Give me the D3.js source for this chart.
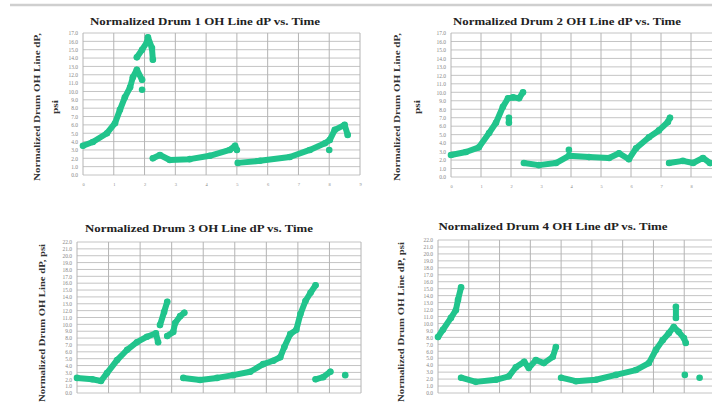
<!DOCTYPE html>
<html>
<head>
  <meta charset="utf-8">
  <script src="https://d3js.org/d3.v7.min.js"></script>
  <style>
    html, body { margin: 0; padding: 0; background: #fff; }
    svg { display: block; }
    .title { font-family: "Liberation Serif", "Times New Roman", serif; font-weight: bold; fill: #222; }
    .ytitle { font-family: "Liberation Serif", "Times New Roman", serif; font-weight: bold; fill: #333; }
    .tick text { font-family: "Liberation Serif", serif; fill: #888; }
  </style>
</head>
<body>
<div id="chart"></div>
<script>
// chart titles
var titles = [
  "Normalized Drum 1 OH Line dP vs. Time",
  "Normalized Drum 2 OH Line dP vs. Time",
  "Normalized Drum 3 OH Line dP vs. Time",
  "Normalized Drum 4 OH Line dP vs. Time"
];
var yTitleTwoLines = ["Normalized Drum OH Line dP,", "psi"];
var yTitleOneLine = ["Normalized Drum OH Line dP, psi"];

// time ticks (index of interval) shown under the top charts
var xTickLabels = ["0", "1", "2", "3", "4", "5", "6", "7", "8", "9"];

// y tick ranges
var yTicksTop = d3.range(0, 18);     // 0.0 .. 17.0
var yTicksBottom = d3.range(0, 23);  // 0.0 .. 22.0

// Drum 1: runs of readings [time, dP]
var drum1Runs = [
  [[0, 3.5], [0.32, 3.95], [0.78, 5.0], [1.04, 6.2], [1.2, 7.8], [1.36, 9.3], [1.53, 10.5], [1.62, 11.7], [1.75, 12.6], [1.92, 11.4]],
  [[1.75, 14.1], [1.92, 15.0], [2.08, 15.9], [2.11, 16.5], [2.24, 15.2], [2.27, 13.8]],
  [[2.27, 2.0], [2.5, 2.4], [2.82, 1.8], [3.47, 1.9], [4.12, 2.3], [4.77, 3.0], [4.94, 3.5], [5.0, 3.0]],
  [[5.03, 1.45], [5.75, 1.7], [6.72, 2.15], [7.37, 3.0], [7.86, 3.8], [8.02, 4.2], [8.18, 5.4], [8.5, 6.0], [8.6, 4.8]]
];
var drum1Single = [[1.92, 10.2], [8.0, 3.0]];

// Drum 2
var drum2Runs = [
  [[0, 2.6], [0.5, 2.95], [0.93, 3.5], [1.27, 5.2], [1.5, 6.4], [1.73, 8.3], [1.9, 9.3], [2.07, 9.4], [2.27, 9.3], [2.4, 10.0]],
  [[1.93, 7.0], [1.93, 6.4]],
  [[2.43, 1.65], [2.93, 1.4], [3.5, 1.65], [3.93, 2.5], [4.6, 2.35], [5.27, 2.25], [5.6, 2.8], [5.93, 2.1], [6.17, 3.4], [6.6, 4.7], [6.93, 5.5], [7.23, 6.5], [7.3, 7.0]],
  [[7.27, 1.65], [7.73, 1.9], [8.07, 1.65], [8.4, 2.25], [8.63, 1.65]]
];
var drum2Single = [[3.93, 3.2]];

// Drum 3
var drum3Runs = [
  [[0, 2.2], [0.48, 2.0], [0.76, 1.75], [0.95, 2.9], [1.27, 4.8], [1.59, 6.3], [1.9, 7.4], [2.22, 8.2], [2.5, 8.7], [2.57, 7.4]],
  [[2.63, 9.9], [2.76, 11.8], [2.86, 13.3]],
  [[2.86, 8.3], [3.05, 8.9], [3.11, 10.2], [3.27, 11.2], [3.4, 11.7]],
  [[3.37, 2.2], [3.9, 1.9], [4.44, 2.2], [4.95, 2.6], [5.49, 3.1], [5.9, 4.2], [6.22, 4.7], [6.44, 5.2], [6.57, 6.7], [6.76, 8.6], [6.95, 9.2], [7.08, 11.5], [7.24, 13.4], [7.4, 14.6], [7.56, 15.7]],
  [[7.56, 2.0], [7.8, 2.3], [8.03, 3.1]]
];
var drum3Single = [[8.5, 2.6]];

// Drum 4
var drum4Runs = [
  [[0, 8.05], [0.16, 9.1], [0.42, 10.8], [0.58, 11.9], [0.65, 13.4], [0.75, 15.2]],
  [[0.75, 2.2], [1.23, 1.6], [1.88, 1.9], [2.3, 2.4], [2.53, 3.7], [2.8, 4.5], [2.95, 3.6], [3.18, 4.75], [3.44, 4.3], [3.73, 5.2], [3.83, 6.6]],
  [[4.0, 2.2], [4.48, 1.7], [5.13, 1.9], [5.78, 2.6], [6.43, 3.3], [6.85, 4.3], [7.08, 6.2], [7.3, 7.6], [7.5, 8.6], [7.66, 9.5], [7.82, 8.8], [7.99, 7.9], [8.05, 7.2]],
  [[7.73, 10.8], [7.73, 12.4]]
];
var drum4Single = [[8.02, 2.6], [8.5, 2.2]];

var green = "#21c48c";

var svg = d3.select("#chart").append("svg")
  .attr("width", 712)
  .attr("height", 408);

// faint rule at the top of the page
svg.append("line")
  .attr("x1", 10).attr("x2", 712)
  .attr("y1", 5).attr("y2", 5)
  .attr("stroke", "#cfcfcf")
  .attr("stroke-width", 2.5);

var panels = [
  { runs: drum1Runs, single: drum1Single, title: titles[0], yTitle: yTitleTwoLines, yTicks: yTicksTop,
    left: 83, right: 360, top: 33, bottom: 175, titleX: 205, titleY: 25, titleW: 230,
    yTitleX: [40, 58], yTitleC: 107, yTitleW: [148, 14], xLabels: true },
  { runs: drum2Runs, single: drum2Single, title: titles[1], yTitle: yTitleTwoLines, yTicks: yTicksTop,
    left: 451, right: 721, top: 33, bottom: 177, titleX: 567, titleY: 25, titleW: 228,
    yTitleX: [400, 420], yTitleC: 107, yTitleW: [148, 14], xLabels: true },
  { runs: drum3Runs, single: drum3Single, title: titles[2], yTitle: yTitleOneLine, yTicks: yTicksBottom,
    left: 77, right: 361, top: 242, bottom: 393, titleX: 199, titleY: 232, titleW: 228,
    yTitleX: [45], yTitleC: 323, yTitleW: [158], xLabels: false },
  { runs: drum4Runs, single: drum4Single, title: titles[3], yTitle: yTitleOneLine, yTicks: yTicksBottom,
    left: 438, right: 715, top: 240, bottom: 393, titleX: 553, titleY: 230, titleW: 229,
    yTitleX: [404], yTitleC: 322, yTitleW: [160], xLabels: false }
];

panels.forEach(function(p, i) {
  var g = svg.append("g");

  var x = d3.scaleLinear().domain([0, 9]).range([p.left, p.right]);
  var y = d3.scaleLinear().domain([0, d3.max(p.yTicks)]).range([p.bottom, p.top]);

  // horizontal grid
  g.append("g").selectAll("line")
    .data(p.yTicks)
    .join("line")
    .attr("x1", p.left).attr("x2", p.right)
    .attr("y1", d => y(d)).attr("y2", d => y(d))
    .attr("stroke", "#c4c4c4").attr("stroke-width", 1);

  // vertical grid
  g.append("g").selectAll("line")
    .data(d3.range(0, 10))
    .join("line")
    .attr("x1", d => x(d)).attr("x2", d => x(d))
    .attr("y1", p.top).attr("y2", p.bottom)
    .attr("stroke", "#b4b4b4").attr("stroke-width", 1);

  // y axis labels
  var yAxis = d3.axisLeft(y).tickValues(p.yTicks).tickSize(0).tickPadding(5)
    .tickFormat(d => d.toFixed(1));
  var ya = g.append("g")
    .attr("transform", `translate(${p.left},0)`)
    .call(yAxis);
  ya.select(".domain").remove();
  ya.selectAll("text").style("font-size", "5.5px");

  if (p.xLabels) {
    // only the ticks that fall inside the page
    var shown = d3.range(0, 10).filter(d => x(d) < 706);
    var xAxis = d3.axisBottom(x).tickValues(shown).tickSize(0).tickPadding(8)
      .tickFormat(d => xTickLabels[d]);
    var xa = g.append("g")
      .attr("transform", `translate(0,${p.bottom})`)
      .call(xAxis);
    xa.select(".domain").remove();
    xa.selectAll("text").style("font-size", "4.5px");
  }

  // title
  g.append("text")
    .attr("class", "title")
    .attr("x", p.titleX).attr("y", p.titleY)
    .attr("text-anchor", "middle")
    .attr("textLength", p.titleW)
    .attr("lengthAdjust", "spacingAndGlyphs")
    .style("font-size", "10.5px")
    .text(p.title);

  // y title
  p.yTitle.forEach(function(t, k) {
    g.append("text")
      .attr("class", "ytitle")
      .attr("transform", `translate(${p.yTitleX[k]},${p.yTitleC}) rotate(-90)`)
      .attr("text-anchor", "middle")
      .attr("textLength", p.yTitleW[k])
      .attr("lengthAdjust", "spacingAndGlyphs")
      .style("font-size", "9px")
      .text(t);
  });

  // readings
  var clipId = "clip" + i;
  svg.append("clipPath").attr("id", clipId)
    .append("rect")
    .attr("x", p.left - 4).attr("y", p.top - 4)
    .attr("width", p.right - p.left + 8).attr("height", p.bottom - p.top + 8);

  var marks = g.append("g").attr("clip-path", `url(#${clipId})`);

  var line = d3.line().x(d => x(d[0])).y(d => y(d[1]));

  marks.selectAll("path")
    .data(p.runs)
    .join("path")
    .attr("d", line)
    .attr("fill", "none")
    .attr("stroke", green)
    .attr("stroke-width", 6)
    .attr("stroke-linecap", "round")
    .attr("stroke-linejoin", "round");

  var pts = p.runs.flat().concat(p.single);
  marks.selectAll("circle")
    .data(pts)
    .join("circle")
    .attr("cx", d => x(d[0]))
    .attr("cy", d => y(d[1]))
    .attr("r", 3.3)
    .attr("fill", green);
});
</script>
</body>
</html>
